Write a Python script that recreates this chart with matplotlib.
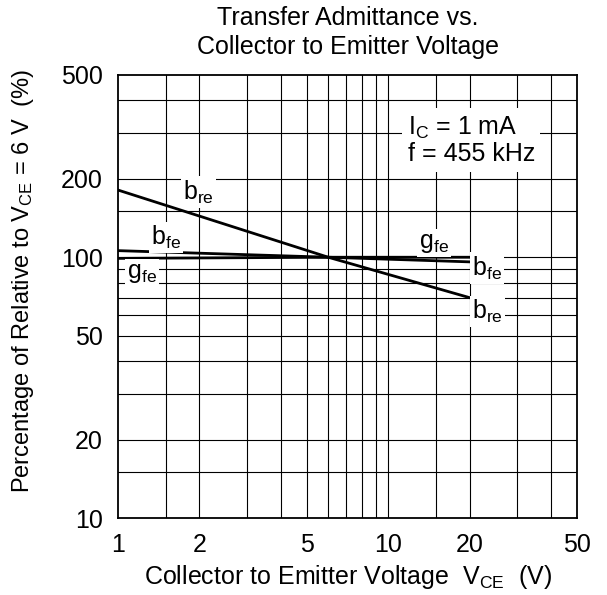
import matplotlib
matplotlib.use("Agg")
from matplotlib import pyplot as plt
from matplotlib.ticker import FixedLocator, NullFormatter, FixedFormatter

plt.rcParams["font.family"] = ["Liberation Sans", "DejaVu Sans"]
plt.rcParams["mathtext.fontset"] = "custom"
plt.rcParams["mathtext.rm"] = "Liberation Sans"
plt.rcParams["mathtext.it"] = "Liberation Sans"
plt.rcParams["mathtext.default"] = "regular"

# data
vce = [1, 6, 20]
b_re = [181, 100, 70]
b_fe = [106, 100, 96]
g_fe = [99, 100, 100]

x_ticks = [1, 2, 5, 10, 20, 50]
y_ticks = [10, 20, 50, 100, 200, 500]
x_grid = [1.5, 2, 3, 4, 5, 6, 7, 8, 9, 10, 15, 20, 30, 40]
y_grid = [15, 20, 30, 40, 50, 60, 70, 80, 90, 100, 150, 200, 300, 400]

fs = 18

fig = plt.figure(figsize=(6.07, 5.95), dpi=100)
ax = fig.add_axes([0.1944, 0.1294, 0.7562, 0.7446])
ax.set_xscale("log")
ax.set_yscale("log")
ax.set_xlim(1, 50)
ax.set_ylim(10, 500)

for x in x_grid:
    ax.axvline(x, color="black", lw=0.8, zorder=1)
for y in y_grid:
    ax.axhline(y, color="black", lw=0.8, zorder=1)

ax.plot(vce, b_re, color="black", lw=2.0, zorder=3)
ax.plot(vce, b_fe, color="black", lw=2.0, zorder=3)
ax.plot(vce, g_fe, color="black", lw=2.0, zorder=3)

ax.xaxis.set_major_locator(FixedLocator(x_ticks))
ax.xaxis.set_major_formatter(FixedFormatter([str(v) for v in x_ticks]))
ax.xaxis.set_minor_formatter(NullFormatter())
ax.yaxis.set_major_locator(FixedLocator(y_ticks))
ax.yaxis.set_major_formatter(FixedFormatter([str(v) for v in y_ticks]))
ax.yaxis.set_minor_formatter(NullFormatter())
ax.tick_params(which="both", length=0, labelsize=fs)
ax.tick_params(axis="x", pad=11)
ax.tick_params(axis="y", pad=11)
for s in ax.spines.values():
    s.set_linewidth(1.3)

box = dict(facecolor="white", edgecolor="none", pad=1.5)
labels = [
    (1.98, 178, r"b$_{re}$"),
    (1.51, 119, r"b$_{fe}$"),
    (1.23, 87, r"g$_{fe}$"),
    (14.8, 113, r"g$_{fe}$"),
    (23.3, 91, r"b$_{fe}$"),
    (23.3, 62, r"b$_{re}$"),
]
for x, y, t in labels:
    ax.text(x, y, t, fontsize=fs, ha="center", va="center", bbox=box, zorder=4)

ax.text(11.8, 280, "I$_C$ = 1 mA\nf = 455 kHz", fontsize=fs, ha="left", va="center",
        linespacing=1.05, bbox=dict(facecolor="white", edgecolor="none", pad=4), zorder=4)

ax.set_title("Transfer Admittance vs.\nCollector to Emitter Voltage", fontsize=18, pad=15, linespacing=1.25)
ax.set_xlabel("Collector to Emitter Voltage  V$_{CE}$  (V)", fontsize=18, labelpad=4)
ax.set_ylabel("Percentage of Relative to V$_{CE}$ = 6 V  (%)", fontsize=17)
ax.yaxis.set_label_coords(-0.178, 0.535)

fig.savefig("out.png", dpi=100)
